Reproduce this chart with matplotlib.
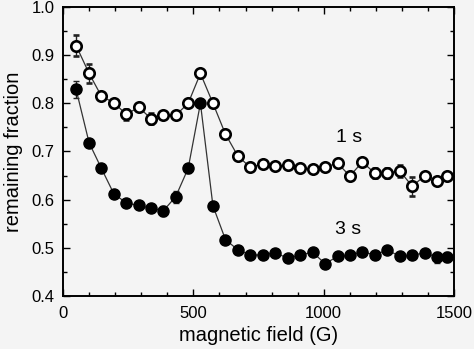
import numpy as np
import matplotlib
matplotlib.use('Agg')
import matplotlib.pyplot as plt
from matplotlib.ticker import MultipleLocator

plt.rcParams['font.family'] = ['Liberation Sans', 'DejaVu Sans']

# magnetic field (G)
field = [50, 100, 147, 195, 243, 290, 338, 385, 432, 480, 527, 575, 623, 670,
         718, 766, 814, 862, 910, 957, 1005, 1053, 1100, 1148, 1196, 1244,
         1291, 1339, 1387, 1435, 1472]

# remaining fraction after 1 s (open circles)
frac_1s = [0.920, 0.862, 0.815, 0.801, 0.777, 0.792, 0.768, 0.775, 0.775, 0.800,
           0.862, 0.800, 0.736, 0.691, 0.667, 0.674, 0.669, 0.672, 0.665, 0.664,
           0.667, 0.676, 0.649, 0.678, 0.655, 0.655, 0.660, 0.628, 0.649, 0.638,
           0.649]
err_1s = [0.022, 0.020, 0.006, 0.005, 0.012, 0.008, 0.012, 0.005, 0.005, 0.005,
          0.006, 0.005, 0.005, 0.005, 0.006, 0.008, 0.005, 0.005, 0.005, 0.005,
          0.005, 0.008, 0.005, 0.005, 0.010, 0.010, 0.012, 0.020, 0.005, 0.006,
          0.005]

# remaining fraction after 3 s (filled circles)
frac_3s = [0.829, 0.718, 0.665, 0.612, 0.593, 0.588, 0.582, 0.577, 0.606, 0.665,
           0.800, 0.587, 0.517, 0.496, 0.485, 0.485, 0.490, 0.478, 0.485, 0.491,
           0.467, 0.482, 0.484, 0.492, 0.485, 0.496, 0.482, 0.484, 0.490, 0.480,
           0.481]
err_3s = [0.018, 0.006, 0.008, 0.005, 0.005, 0.005, 0.005, 0.010, 0.012, 0.010,
          0.006, 0.005, 0.005, 0.005, 0.005, 0.005, 0.005, 0.005, 0.005, 0.005,
          0.005, 0.005, 0.005, 0.005, 0.005, 0.005, 0.005, 0.005, 0.005, 0.012,
          0.010]

bg = '#f4f4f4'
fig = plt.figure(figsize=(4.74, 3.49), dpi=100, facecolor=bg)
ax = fig.add_axes([0.133, 0.152, 0.825, 0.828], facecolor=bg)

ax.errorbar(field, frac_1s, yerr=err_1s, fmt='-o', color='#333333', lw=0.9,
            ms=7.5, mfc='white', mec='black', mew=1.9, ecolor='#222222',
            elinewidth=1.0, capsize=2, zorder=3)
ax.errorbar(field, frac_3s, yerr=err_3s, fmt='-o', color='#333333', lw=0.9,
            ms=8, mfc='black', mec='black', ecolor='#222222',
            elinewidth=1.0, capsize=2, zorder=3)

ax.text(1097, 0.730, '1 s', fontsize=14, ha='center', va='center')
ax.text(1093, 0.539, '3 s', fontsize=14, ha='center', va='center')

ax.set_xlim(0, 1500)
ax.set_ylim(0.4, 1.0)
ax.xaxis.set_major_locator(MultipleLocator(500))
ax.xaxis.set_minor_locator(MultipleLocator(100))
ax.yaxis.set_major_locator(MultipleLocator(0.1))
ax.yaxis.set_minor_locator(MultipleLocator(0.05))
ax.yaxis.set_major_formatter(plt.FormatStrFormatter('%.1f'))
ax.tick_params(which='both', direction='in', top=True, right=True, labelsize=12,
               width=1.0)
ax.tick_params(which='major', length=5)
ax.tick_params(which='minor', length=3)
ax.tick_params(axis='x', pad=7)
ax.tick_params(axis='y', pad=6)
for s in ax.spines.values():
    s.set_linewidth(1.4)

ax.set_xlabel('magnetic field (G)', fontsize=14.5, labelpad=4)
ax.set_ylabel('remaining fraction', fontsize=14.5, labelpad=6)

fig.savefig('out.png', dpi=100, facecolor=bg)
